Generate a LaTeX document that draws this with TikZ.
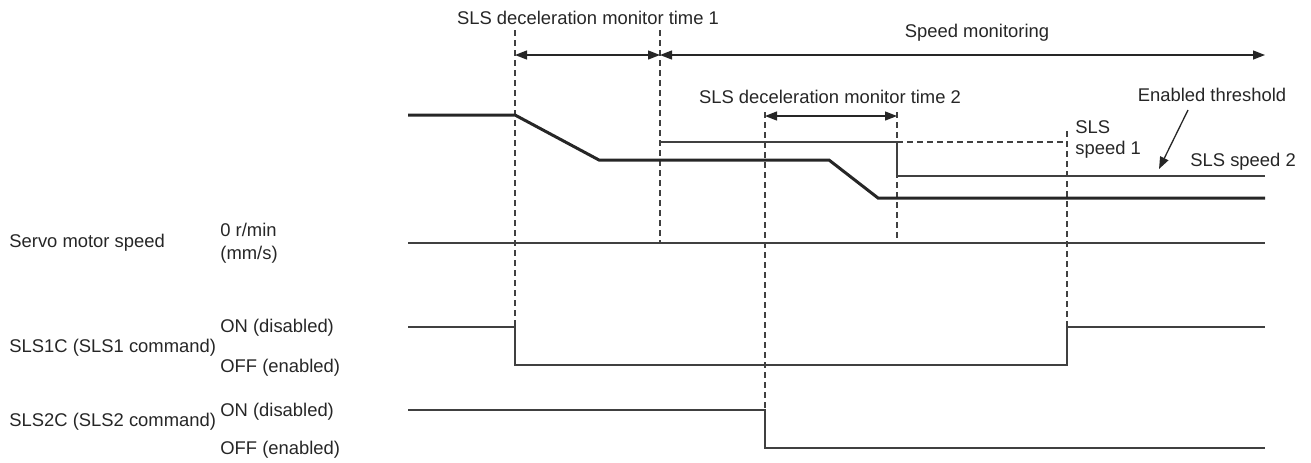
\documentclass[tikz,border=0pt]{standalone}
\usepackage{fontspec}
\setmainfont{Liberation Sans}
\usetikzlibrary{arrows.meta}
\begin{document}
\begin{tikzpicture}[x=0.5pt,y=-0.5pt,
  lbl/.style={inner sep=0pt,font=\fontsize{9.2}{11}\selectfont,text=black!85},
  sig/.style={draw=black!75,line width=0.65pt},
  thick speed/.style={draw=black!85,line width=1.5pt,line join=miter},
  guide/.style={draw=black!75,line width=0.6pt,dash pattern=on 3pt off 2pt},
  dimarrow/.style={draw=black!85,line width=0.65pt,{Triangle[length=6pt,width=4.5pt]}-{Triangle[length=6pt,width=4.5pt]}},
  ptr/.style={draw=black!85,line width=0.65pt,-{Triangle[length=6pt,width=4.5pt]}}]
\useasboundingbox (0,0) rectangle (1311,462);
% coordinates
\coordinate (d1t) at (515,30);  \coordinate (d1b) at (515,327);
\coordinate (d2t) at (660,30);  \coordinate (d2b) at (660,243);
\coordinate (d3t) at (765,112); \coordinate (d3b) at (765,410);
\coordinate (d4t) at (897,112); \coordinate (d4b) at (897,243);
\coordinate (d5t) at (1067,131); \coordinate (d5b) at (1067,327);
\coordinate (a1l) at (515,55); \coordinate (a1r) at (660,55);
\coordinate (a2r) at (1265,55);
\coordinate (a3l) at (765,116); \coordinate (a3r) at (897,116);
\coordinate (t1) at (660,142); \coordinate (t2) at (897,142);
\coordinate (t3) at (897,176); \coordinate (t4) at (1265,176);
\coordinate (t5) at (1067,142);
\coordinate (s0) at (408,115); \coordinate (s1) at (515,115);
\coordinate (s2) at (599,160); \coordinate (s3) at (829,160);
\coordinate (s4) at (878,198); \coordinate (s5) at (1265,198);
\coordinate (z0) at (408,243); \coordinate (z1) at (1265,243);
\coordinate (p0) at (408,327); \coordinate (p1) at (515,327);
\coordinate (p2) at (515,365); \coordinate (p3) at (1067,365);
\coordinate (p4) at (1067,327); \coordinate (p5) at (1265,327);
\coordinate (q0) at (408,410); \coordinate (q1) at (765,410);
\coordinate (q2) at (765,448); \coordinate (q3) at (1265,448);
\coordinate (e0) at (1188,110); \coordinate (e1) at (1159,169);
% guides
\draw[guide] (d1t) -- (d1b);
\draw[guide] (d2t) -- (d2b);
\draw[guide] (d3t) -- (d3b);
\draw[guide] (d4t) -- (d4b);
\draw[guide] (d5t) -- (d5b);
\draw[guide] (t2) -- (t5);
% arrows
\draw[dimarrow] (a1l) -- (a1r);
\draw[dimarrow] (a1r) -- (a2r);
\draw[dimarrow] (a3l) -- (a3r);
\draw[ptr] (e0) -- (e1);
% threshold
\draw[sig] (t1) -- (t2) -- (t3) -- (t4);
% speed
\draw[thick speed] (s0) -- (s1) -- (s2) -- (s3) -- (s4) -- (s5);
\draw[sig] (z0) -- (z1);
% signals
\draw[sig] (p0) -- (p1) -- (p2) -- (p3) -- (p4) -- (p5);
\draw[sig] (q0) -- (q1) -- (q2) -- (q3);
% labels
\node[lbl] (l1) at (588,18) {SLS deceleration monitor time 1};
\node[lbl] (l2) at (977,33) {Speed monitoring};
\node[lbl] (l3) at (830,97) {SLS deceleration monitor time 2};
\node[lbl] (l4) at (1212,95) {Enabled threshold};
\node[lbl,anchor=west] (l5) at (1075,127) {SLS};
\node[lbl,anchor=west] (l6) at (1075,150) {speed 1};
\node[lbl,anchor=west] (l7) at (1190,162) {SLS speed 2};
\node[lbl,anchor=west] (n1) at (9,243) {Servo motor speed};
\node[lbl,anchor=west] (n2) at (220,230) {0 r/min};
\node[lbl,anchor=west] (n3) at (220,255) {(mm/s)};
\node[lbl,anchor=west] (n4) at (9,348) {SLS1C (SLS1 command)};
\node[lbl,anchor=west] (n5) at (220,328) {ON (disabled)};
\node[lbl,anchor=west] (n6) at (220,368) {OFF (enabled)};
\node[lbl,anchor=west] (n7) at (9,422) {SLS2C (SLS2 command)};
\node[lbl,anchor=west] (n8) at (220,412) {ON (disabled)};
\node[lbl,anchor=west] (n9) at (220,450) {OFF (enabled)};
\end{tikzpicture}
\end{document}
